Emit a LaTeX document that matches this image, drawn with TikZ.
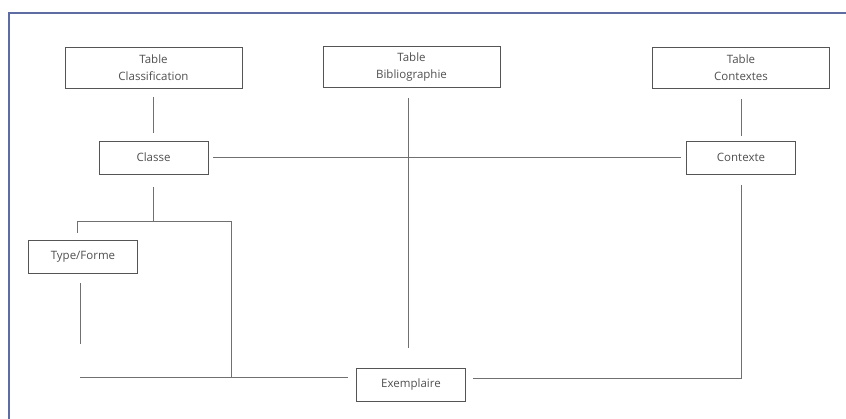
\documentclass[tikz,border=0pt]{standalone}
\usepackage{fontspec}
\setmainfont{Open Sans}
\usetikzlibrary{positioning,calc}
\definecolor{framblue}{HTML}{5F6CA3}
\definecolor{boxgray}{HTML}{555555}
\definecolor{linegray}{HTML}{707070}
\definecolor{txtgray}{HTML}{505050}

\begin{document}
\begin{tikzpicture}[x=1pt,y=-1pt,
        tbl/.style={draw=boxgray,line width=0.9pt,fill=white,text=txtgray,
            font=\fontsize{11.5}{17}\selectfont,align=center,inner sep=0pt,
            minimum width=177pt,minimum height=41pt},
        ent/.style={tbl,minimum width=109pt,minimum height=33pt},
        link/.style={draw=linegray,line width=0.8pt},
        frame/.style={draw=framblue,line width=1.4pt}]
            \useasboundingbox (0,0) rectangle (846,419);
            \draw[frame] (9,419) -- (9,13) -- (846,13);
            % tables
            \node[tbl] (tabcla) at (153.5,67.5) {Table\\Classification};
            \node[tbl] (tabbib) at (411.5,67) {Table\\Bibliographie};
            \node[tbl] (tabctx) at (741,68) {Table\\Contextes};
            % entities
            \node[ent] (classe) at (153.5,157.5) {Classe};
            \node[ent] (ctx) at (741,157.5) {Contexte};
            \node[ent] (typef) at (83,256.5) {Type/Forme};
            \node[ent] (exem) at (411,384.5) {Exemplaire};
            \coordinate (split) at (153.5,221);
            \coordinate (splitL) at (77,221);
            \coordinate (splitR) at (231,221);
            \coordinate (stubL) at (77,233);
            \coordinate (baseR) at (231,377);
            \coordinate (baseL) at (80,377);
            \coordinate (typeEnd) at (80,344);
            \coordinate (bibEnd) at (408,348);
            \coordinate (exL) at (348,377);
            \coordinate (exR) at (473,378);
            % links
            \draw[link,shorten <=9pt,shorten >=8pt] (tabcla) -- (classe);
            \draw[link,shorten <=10pt,shorten >=5pt] (tabctx) -- (ctx);
            \draw[link,shorten <=5pt,shorten >=5pt] (classe) -- (ctx);
            \draw[link,shorten <=10pt] (tabbib.south -| bibEnd) -- (bibEnd);
            \draw[link,shorten <=13pt] (classe) -- (split);
            \draw[link] (stubL) -- (splitL) -- (splitR) -- (baseR);
            \draw[link,shorten <=10pt] (typef.south -| typeEnd) -- (typeEnd);
            \draw[link] (baseL) -- (exL);
            \draw[link,shorten <=11pt] (ctx) |- (exR);
        \end{tikzpicture}
\end{document}
